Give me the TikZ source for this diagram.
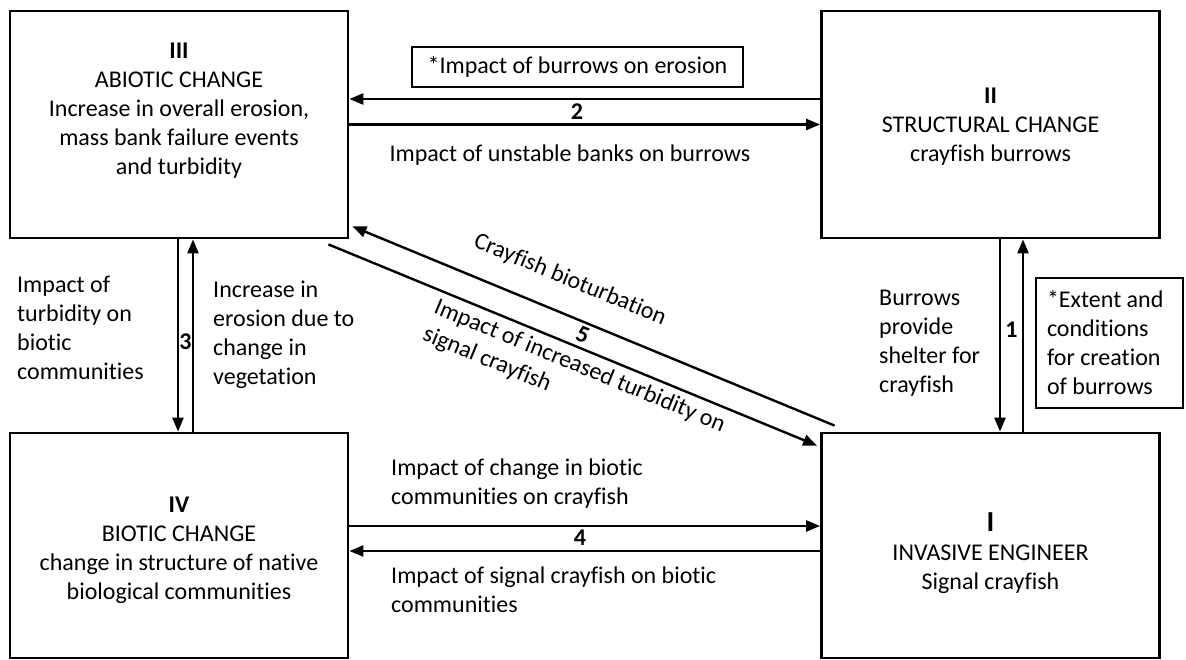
\documentclass[tikz,border=0pt]{standalone}
\usepackage{fontspec}
\setmainfont{Carlito}[Ligatures=NoCommon]
\usetikzlibrary{arrows.meta, positioning}
\tikzset{%
	box/.style={
		draw,
		line width=2.8pt,
		minimum width=338pt,
		minimum height=227pt,
		inner sep=0pt
	},
	boxtext/.style={align=center, inner sep=0pt},
	note/.style={draw, line width=1.1pt, inner sep=0pt},
	lbl/.style={align=left, inner sep=0pt},
	num/.style={inner sep=0pt, execute at begin node=\bfseries},
	link/.style={line width=2.4pt, -{Triangle[length=14pt,width=11pt]}},
}

\begin{document}
\begin{tikzpicture}[x=1pt, y=-1pt, font=\fontsize{24}{29}\selectfont]
			\useasboundingbox (0,0) rectangle (1186,660);
			
			% Draw the four boxes
			\node[box] (III) at (179,124.5) {};
			\node[box] (II) at (990.5,124.5) {};
			\node[box, minimum height=225pt] (IV) at (179,545.5) {};
			\node[box, minimum height=225pt] (I) at (990.5,545.5) {};
			
			% Box texts
			\node[boxtext] (III-txt) at (179,111) {\textbf{III}\\ABIOTIC CHANGE\\Increase in overall erosion,\\mass bank failure events\\and turbidity};
			\node[boxtext] (II-txt) at (990.5,127) {\textbf{II}\\STRUCTURAL CHANGE\\crayfish burrows};
			\node[boxtext] (IV-txt) at (179,550) {\textbf{IV}\\BIOTIC CHANGE\\change in structure of native\\biological communities};
			\node[boxtext] (I-txt) at (990.5,553) {{\fontsize{29}{32}\selectfont\textbf{I}}\\INVASIVE ENGINEER\\Signal crayfish};
			
			% Link 2
			\draw[link] ([yshift=25.5pt]II.west) -- ([yshift=25.5pt]III.east);
			\draw[link] (III.east) -- (II.west);
			\node[num] (n2) at (577,112) {2};
			\node[note, minimum width=331pt, minimum height=40pt] (l2a) at (577.5,67) {*Impact of burrows on erosion};
			\node[inner sep=0pt] (l2b) at (570,155) {Impact of unstable banks on burrows};
			
			% Link 3
			\draw[link] ([xshift=-1pt]III.south) -- ([xshift=-1pt]IV.north);
			\draw[link] ([xshift=14pt]IV.north) -- ([xshift=14pt]III.south);
			\node[num] (n3) at (185.5,342) {3};
			\node[lbl, anchor=west] (l3a) at (17,328) {Impact of\\turbidity on\\biotic\\communities};
			\node[lbl, anchor=west] (l3b) at (213,335) {Increase in\\erosion due to\\change in\\vegetation};
			
			% Link 1
			\draw[link] ([xshift=9.5pt]II.south) -- ([xshift=9.5pt]I.north);
			\draw[link] ([xshift=32.5pt]I.north) -- ([xshift=32.5pt]II.south);
			\node[num] (n1) at (1011.5,330) {1};
			\node[lbl, anchor=west] (l1a) at (879,343) {Burrows\\provide\\shelter for\\crayfish};
			\node[note, minimum width=147pt, minimum height=130pt, text width=125pt, align=flush left] (l1b) at (1109.5,343) {*Extent and\\conditions\\for creation\\of burrows};
			
			% Link 4
			\draw[link] ([yshift=19.5pt]IV.east) -- ([yshift=19.5pt]I.west);
			\draw[link] ([yshift=-5.5pt]I.west) -- ([yshift=-5.5pt]IV.east);
			\node[num] (n4) at (580,538) {4};
			\node[lbl, anchor=west] (l4a) at (391,484) {Impact of change in biotic\\communities on crayfish};
			\node[lbl, anchor=west] (l4b) at (391,590) {Impact of signal crayfish on biotic\\communities};
			
			% Link 5 (diagonal)
			\draw[link] ([shift={(14.5,-6)}]I.north west) -- ([shift={(3,-13)}]III.south east);
			\draw[link] ([shift={(-21,5)}]III.south east) -- ([shift={(-3,14)}]I.north west);
			\node[num, rotate=-22] (n5) at (583,335) {5};
			\node[lbl, rotate=-22.4] (l5a) at (570,280) {Crayfish bioturbation};
			\node[lbl, rotate=-22.4] (l5b) at (574,380) {Impact of increased turbidity on\\signal crayfish};
		\end{tikzpicture}
\end{document}
